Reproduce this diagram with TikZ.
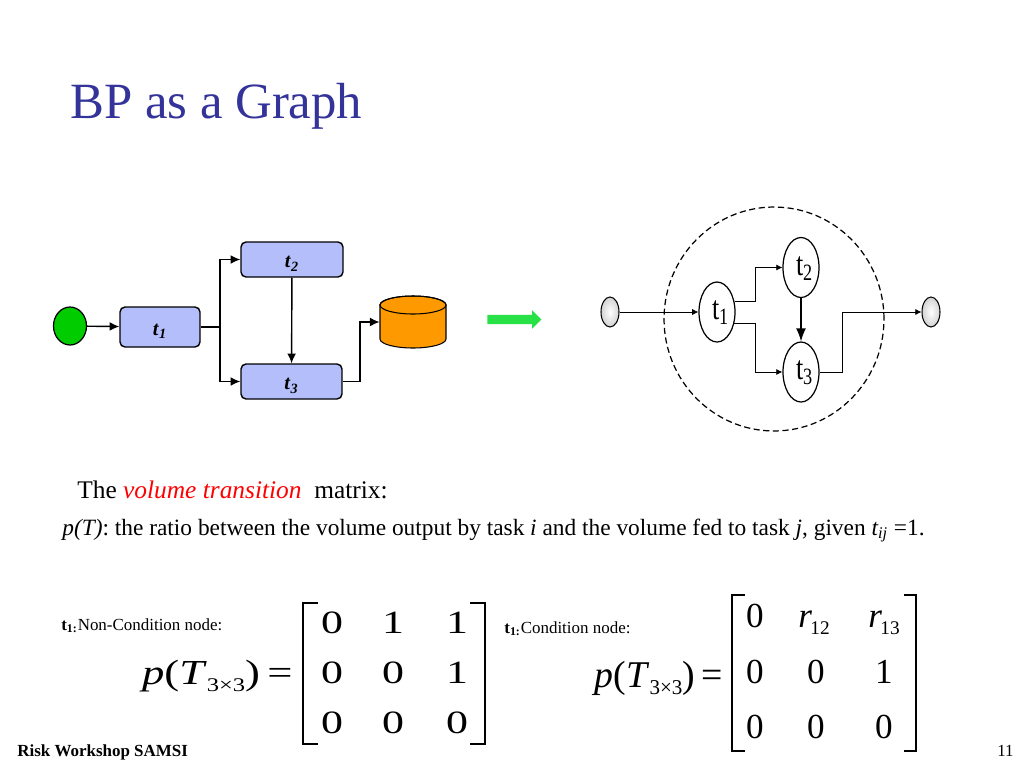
\documentclass[tikz,border=0pt]{standalone}
\usepackage{fontspec}
\setmainfont{Liberation Serif}
\usetikzlibrary{shapes.geometric,shapes.arrows,arrows.meta}
\definecolor{titleblue}{RGB}{51,51,153}
\definecolor{taskblue}{RGB}{179,190,250}
\definecolor{storeorange}{RGB}{255,153,0}
\definecolor{startgreen}{RGB}{0,204,0}
\definecolor{arrowgreen}{RGB}{40,225,70}
\newcommand{\wide}[1]{\scalebox{1.35}[1]{#1}}
\newcommand{\tlab}[1]{\raisebox{-4.8pt}[0pt][0pt]{\textbf{\textit{t}\textsubscript{\textit{#1}}}}}
\newcommand{\tsym}[1]{\hspace*{4pt}\raisebox{-4.5pt}[0pt][0pt]{\scalebox{0.78}[1]{t\textsubscript{#1}}}}
\newcommand{\pT}[1]{\textit{p}(\textit{T}\raisebox{-0.45ex}{\fontsize{#1}{#1}\selectfont 3×3})\,=}
\newcommand{\rsub}[1]{\textit{r}\kern-1pt\raisebox{-4.5pt}{\fontsize{11pt}{12pt}\selectfont #1}}
\tikzset{
task/.style={draw,line width=0.8pt,rounded corners=0.1cm,fill=taskblue,inner sep=0pt,font=\fontsize{11.5pt}{13pt}\selectfont},
place/.style={draw,ellipse,line width=0.7pt,inner sep=0pt,minimum width=0.72cm,minimum height=1.2cm,font=\fontsize{19pt}{22pt}\selectfont},
terminal/.style={draw,ellipse,line width=0.6pt,inner sep=0pt,minimum width=0.36cm,minimum height=0.6cm,inner color=white,outer color=gray!35},
txt/.style={anchor=base west,inner sep=0pt},
cella/.style={inner sep=0pt,font=\fontsize{18.5pt}{20pt}\selectfont},
cellb/.style={inner sep=0pt,font=\fontsize{20pt}{22pt}\selectfont},
conn/.style={line width=0.8pt,-{Latex[length=5.5pt,width=5pt]}},
thinconn/.style={line width=0.45pt,-{Latex[length=3.5pt,width=3.5pt]}}
}
\begin{document}
\begin{tikzpicture}[x=0.02cm,y=-0.02cm]
\useasboundingbox (0,0) rectangle (1024,768);

\node[txt,text=titleblue,font=\fontsize{28.9pt}{32pt}\selectfont] (title) at (70,118) {BP as a Graph};

%left flow
\node[draw,ellipse,line width=0.7pt,fill=startgreen,inner sep=0pt,minimum width=0.66cm,minimum height=0.76cm] (start) at (70,326) {};
\node[task,minimum width=1.6cm,minimum height=0.8cm] (t1) at (160,327) {\tlab{1}};
\node[task,minimum width=2.04cm,minimum height=0.7cm] (t2) at (292,259.5) {\tlab{2}};
\node[task,minimum width=2.02cm,minimum height=0.7cm] (t3) at (291.5,381.5) {\tlab{3}};

%store
\draw[line width=0.6pt,fill=storeorange] (380,305) -- (380,339) arc[start angle=180,end angle=360,x radius=0.66cm,y radius=0.18cm] -- (446,305) arc[start angle=0,end angle=180,x radius=0.66cm,y radius=0.18cm] -- cycle;
\draw[line width=0.6pt] (413,305) ellipse [x radius=0.66cm,y radius=0.18cm];
\node[inner sep=0pt,minimum width=1.32cm,minimum height=1.04cm] (store) at (413,322) {};

\node[single arrow,fill=arrowgreen,inner sep=0pt,text height=0.17cm,text depth=0pt,text width=0pt,minimum height=1.08cm,single arrow head extend=0.09cm,single arrow head indent=0pt] (go) at (512,319.5) {};

\coordinate (split) at (220,327);
\coordinate (join) at (360,381.5);

\draw[conn] (start) -- (t1);
\draw[line width=0.8pt] (t1) -- (split);
\draw[conn] (split) |- (t2);
\draw[conn] (split) |- (t3);
\draw[conn] (t2) -- (t3);
\draw[line width=0.8pt] (t3) -- (join);
\draw[conn] (join) |- (store.west);

%right graph
\node[draw,ellipse,line width=0.7pt,dash pattern=on 3.5pt off 2pt,inner sep=0pt,minimum width=4.4cm,minimum height=4.48cm] (scope) at (774,319) {};
\node[terminal] (in) at (610,312) {};
\node[terminal] (out) at (931,312) {};
\node[place] (p1) at (717,312) {\tsym{1}};
\node[place] (p2) at (801,267.5) {\tsym{2}};
\node[place] (p3) at (801,372) {\tsym{3}};

\coordinate (up) at (755,267.5);
\coordinate (down) at (755,372);
\coordinate (back) at (842,312);

\draw[thinconn] (in) -- (p1);
\draw[thinconn] (p1.30) -| (up) -- (p2);
\draw[thinconn] (p1.-33) -| (down) -- (p3);
\draw[line width=0.9pt,-{Latex[length=7.4pt,width=5.7pt]}] (p2) -- (p3);
\draw[line width=0.45pt] (p3) -| (back);
\draw[thinconn] (back) -- (out);

%text
\node[txt,font=\fontsize{14.45pt}{16pt}\selectfont] (intro) at (77,498) {The \textcolor{red}{\textit{volume transition}}\ \ matrix:};
\node[txt,font=\fontsize{13.3pt}{15pt}\selectfont] (ratio) at (62,535) {\textit{p(T)}: the ratio between the volume output by task \textit{i} and the volume fed to task \textit{j}, given \textit{t\textsubscript{ij}} =1.};

%non condition matrix
\node[txt,font=\fontsize{9.65pt}{11pt}\selectfont] (ncond) at (61,630) {\textbf{t\textsubscript{1:}}Non-Condition node:};
\node[anchor=base east,inner sep=0pt,font=\fontsize{20pt}{22pt}\selectfont] (lhsa) at (293,684) {\scalebox{1.27}[1]{\pT{11pt}}};
\node[cella] (a11) at (332,623) {\wide{0}};
\node[cella] (a12) at (393,623) {\wide{1}};
\node[cella] (a13) at (457,623) {\wide{1}};
\node[cella] (a21) at (332,673) {\wide{0}};
\node[cella] (a22) at (393,673) {\wide{0}};
\node[cella] (a23) at (457,673) {\wide{1}};
\node[cella] (a31) at (332,723) {\wide{0}};
\node[cella] (a32) at (393,723) {\wide{0}};
\node[cella] (a33) at (457,723) {\wide{0}};
\draw[line width=0.9pt] (318,603) -- (303,603) -- (303,744) -- (318,744);
\draw[line width=0.9pt] (470,603) -- (485,603) -- (485,744) -- (470,744);

%condition matrix
\node[txt,font=\fontsize{9.65pt}{11pt}\selectfont] (cond) at (504,633) {\textbf{t\textsubscript{1:}}Condition node:};
\node[anchor=base east,inner sep=0pt,font=\fontsize{21.5pt}{24pt}\selectfont] (lhsb) at (723,687) {\pT{12pt}};
\node[cellb] (b11) at (755,616) {0};
\node[cellb,anchor=base] (b12) at (814,627) {\rsub{12}};
\node[cellb,anchor=base] (b13) at (884,627) {\rsub{13}};
\node[cellb] (b21) at (755,672) {0};
\node[cellb] (b22) at (816,672) {0};
\node[cellb] (b23) at (884,672) {1};
\node[cellb] (b31) at (755,727) {0};
\node[cellb] (b32) at (816,727) {0};
\node[cellb] (b33) at (884,727) {0};
\draw[line width=0.9pt] (745,595) -- (732,595) -- (732,751) -- (745,751);
\draw[line width=0.9pt] (904,595) -- (916,595) -- (916,751) -- (904,751);

%footer
\node[txt,font=\bfseries\fontsize{9.65pt}{11pt}\selectfont] (foot) at (17,756) {Risk Workshop SAMSI};
\node[txt,font=\fontsize{9.65pt}{11pt}\selectfont] (page) at (997,756) {11};
\end{tikzpicture}
\end{document}
